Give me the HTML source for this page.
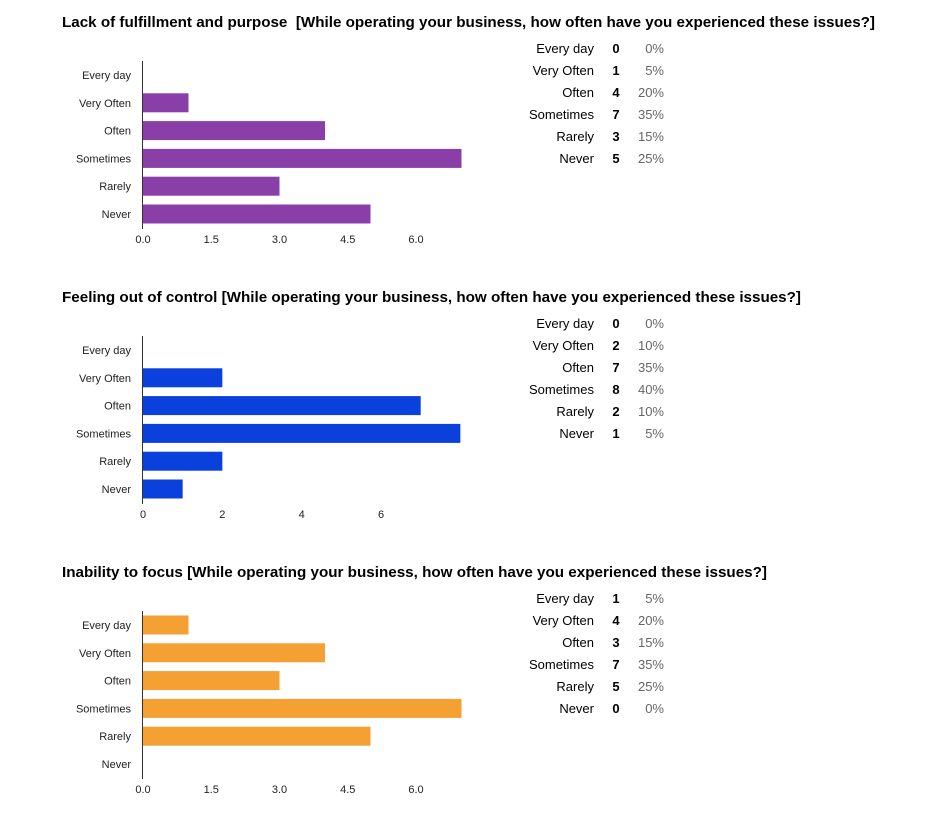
<!DOCTYPE html>
<html><head><meta charset="utf-8"><style>
body{margin:0;background:#fff;font-family:"Liberation Sans",Arial,sans-serif}
svg{display:block}
</style></head><body>
<svg id="c" width="938" height="814" xmlns="http://www.w3.org/2000/svg"></svg>
<script>
const categories=["Every day","Very Often","Often","Sometimes","Rarely","Never"];
const titles=["Lack of fulfillment and purpose  [While operating your business, how often have you experienced these issues?]","Feeling out of control [While operating your business, how often have you experienced these issues?]","Inability to focus [While operating your business, how often have you experienced these issues?]"];
const seriesFulfillment=[0,1,4,7,3,5];
const seriesControl=[0,2,7,8,2,1];
const seriesFocus=[1,4,3,7,5,0];
const pctFulfillment=["0%","5%","20%","35%","15%","25%"];
const pctControl=["0%","10%","35%","40%","10%","5%"];
const pctFocus=["5%","20%","15%","35%","25%","0%"];
const ticksA=["0.0","1.5","3.0","4.5","6.0"];
const tickValsA=[0,1.5,3,4.5,6];
const ticksB=["0","2","4","6"];
const tickValsB=[0,2,4,6];
const NS="http://www.w3.org/2000/svg";
const svg=document.getElementById('c');
function mk(t,a,txt,parent){const e=document.createElementNS(NS,t);for(const k in a)e.setAttribute(k,a[k]);if(txt!==undefined)e.textContent=txt;(parent||svg).appendChild(e);return e;}
const titleWidths=[813,739,705];
const charts=[
 {s:seriesFulfillment,p:pctFulfillment,tl:ticksA,tv:tickValsA,ppu:45.5,color:"#8a3ea8"},
 {s:seriesControl,p:pctControl,tl:ticksB,tv:tickValsB,ppu:39.67,color:"#0a40dc"},
 {s:seriesFocus,p:pctFocus,tl:ticksA,tv:tickValsA,ppu:45.5,color:"#f4a032"}
];
charts.forEach((c,i)=>{
 const oy=i*275;
 const g=mk('g',{});
 
 
 const x0=143;
 const xs=v=>x0+v*c.ppu;
 const ys=k=>oy+75+k*27.8;
 const t=mk('text',{x:62,y:oy+27,'font-size':14.5,'font-weight':'bold',fill:'#000',textLength:titleWidths[i],lengthAdjust:'spacingAndGlyphs',style:'white-space:pre'},titles[i],g);
 
 
 categories.forEach((cat,k)=>{
  const l=mk('text',{x:131,y:ys(k)+4,'font-size':11,'text-anchor':'end',fill:'#222'},cat,g);
  
  
  if(c.s[k]>0){
   const b=mk('rect',{x:x0,y:ys(k)-9.5,width:xs(c.s[k])-x0,height:19,fill:c.color},undefined,g);
   
   
  }
  const ty=oy+48+k*22+5;
  const a=mk('text',{x:594,y:ty,'font-size':13,'text-anchor':'end',fill:'#000'},cat,g);
  
  
  const n=mk('text',{x:616,y:ty,'font-size':13,'font-weight':'bold','text-anchor':'middle',fill:'#000'},String(c.s[k]),g);
  
  
  const p=mk('text',{x:664,y:ty,'font-size':13,'text-anchor':'end',fill:'#666'},c.p[k],g);
  
  
 });
 const ax=mk('line',{x1:142.5,x2:142.5,y1:oy+61,y2:oy+229,stroke:'#333','stroke-width':1},undefined,g);
 
 
 c.tv.forEach((v,k)=>{
  const tk=mk('text',{x:xs(v),y:oy+243,'font-size':11,'text-anchor':'middle',fill:'#222'},c.tl[k],g);
  
  
 });
});
</script>
</body></html>
